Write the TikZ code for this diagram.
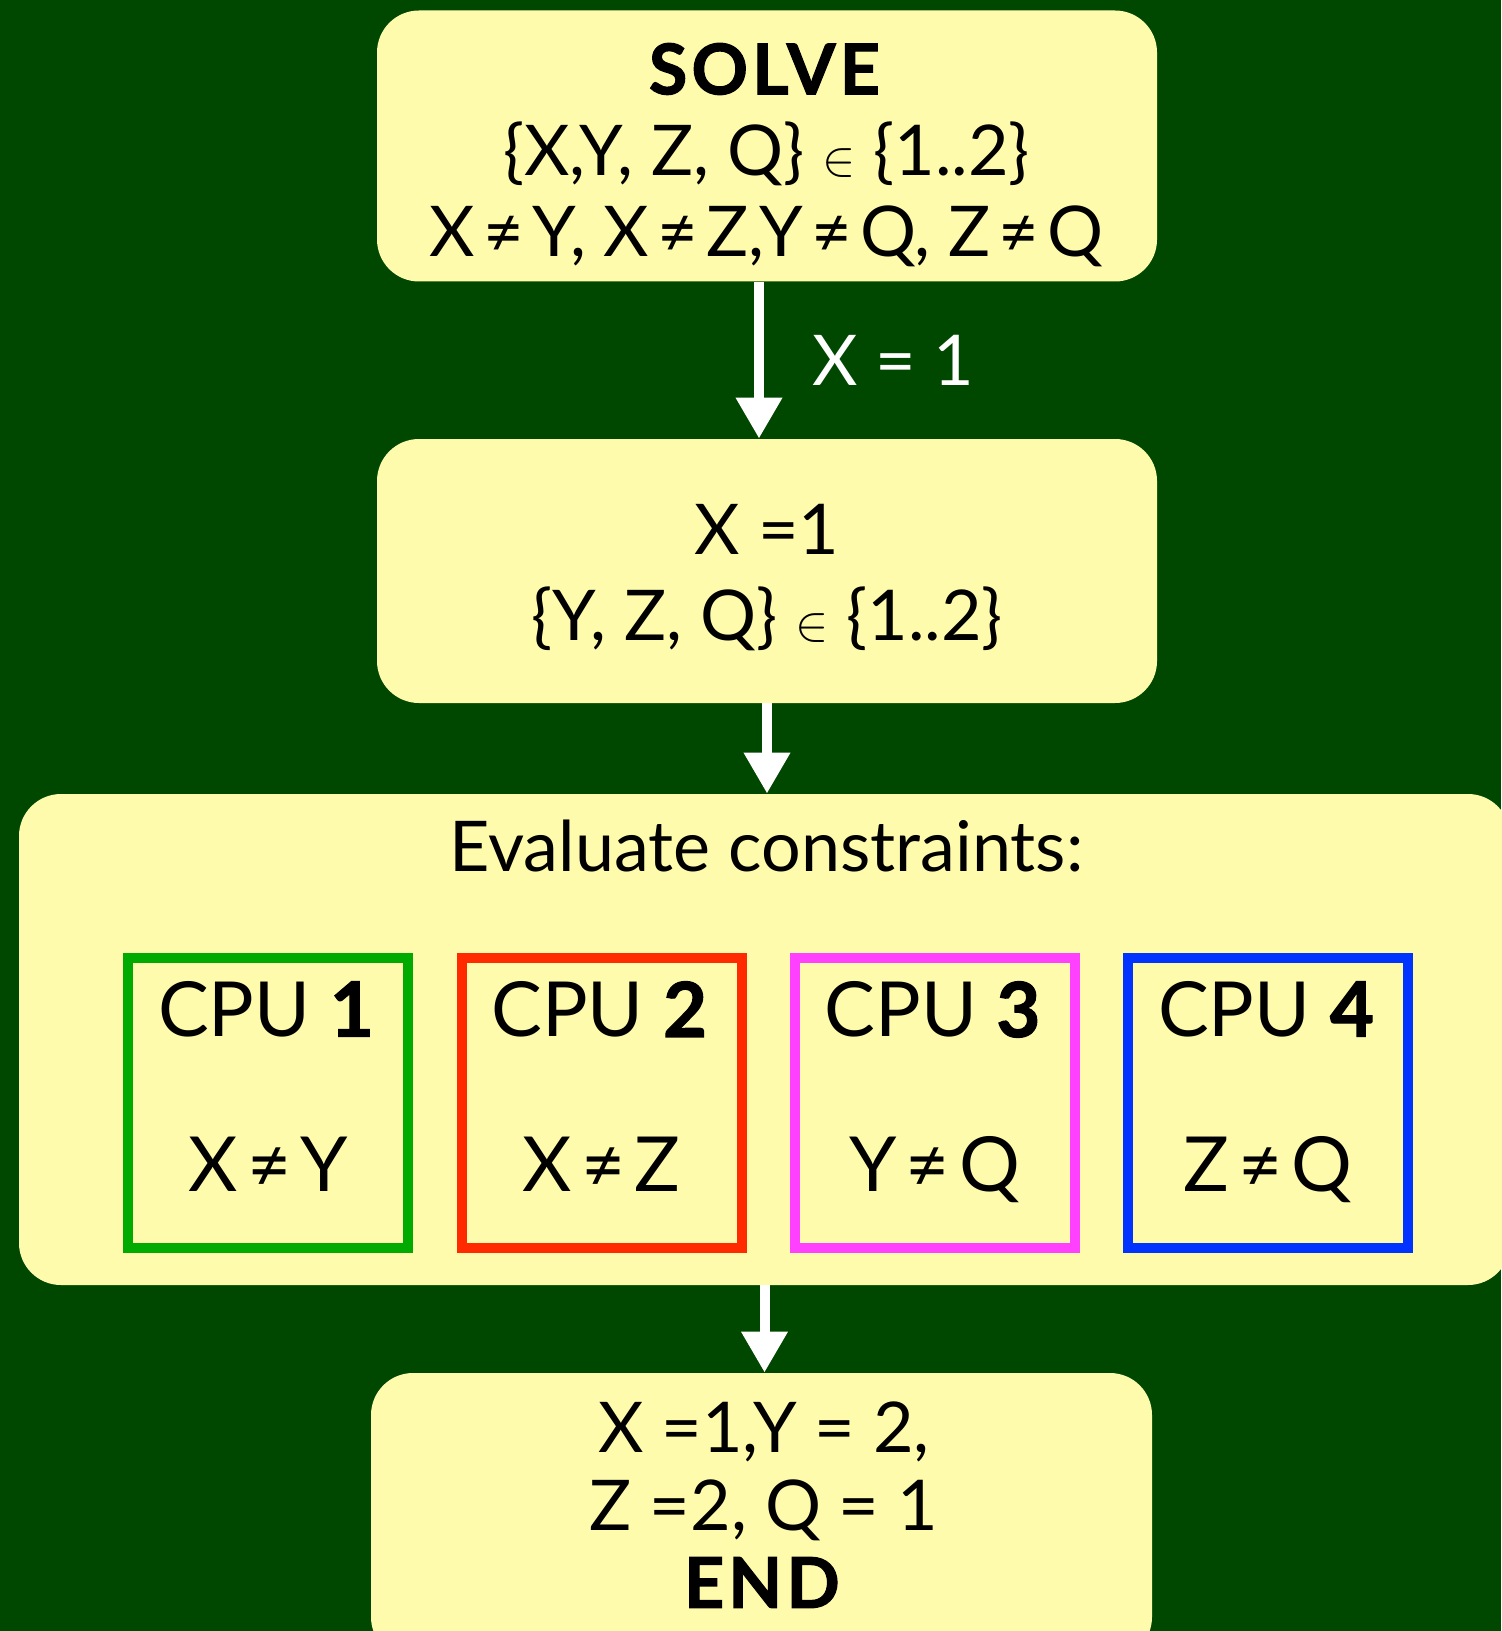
\documentclass[tikz,border=0pt]{standalone}
\usepackage{fontspec}
\setmainfont{Lato}[BoldFeatures={FakeBold=1.5, LetterSpace=6}]
\usetikzlibrary{arrows.meta}

\definecolor{board}{RGB}{0,72,0}
\definecolor{pad}{RGB}{255,251,173}
\definecolor{cpuA}{RGB}{0,170,0}
\definecolor{cpuB}{RGB}{255,42,0}
\definecolor{cpuC}{RGB}{255,64,255}
\definecolor{cpuD}{RGB}{0,51,255}

\newcommand\neqsign{\kern0.12em≠\kern0.12em}

\begin{document}
\begin{tikzpicture}[x=0.5pt, y=-0.5pt,
        every node/.style = {inner sep=0pt, align=center,
            font=\fontsize{35}{40.5}\selectfont},
        stage/.style = {shape=rectangle, rounded corners=21pt, fill=pad},
        cpu/.style = {shape=rectangle, draw=#1, line width=5pt,
            minimum width=140pt, minimum height=145pt},
        flow/.style = {draw=white, line width=5pt,
            -{Triangle[length=20.5pt, width=22pt]}}]

    \useasboundingbox (0,0) rectangle (1501,1631);
    \fill[board] (0,0) rectangle (1501,1631);

    \node[stage, minimum width=390pt, minimum height=135.5pt] (solve) at (767,146) {};
    \node[stage, minimum width=390pt, minimum height=132pt] (bind) at (767,571) {};
    \node[stage, minimum width=745.5pt, minimum height=245.5pt] (evaluate) at (764.5,1039.5) {};
    \node[stage, minimum width=390.5pt, minimum height=143pt] (finish) at (761.5,1516) {};

    \node[anchor=north] (solvetext) at (766.5,42.7)
        {\textbf{SOLVE}\\ \{X,Y, Z, Q\} $\in$ \{1..2\}\\
         X\neqsign Y, X\neqsign Z,Y\neqsign Q, Z\neqsign Q};
    \node[anchor=north, font=\fontsize{35}{43}\selectfont] (bindtext) at (767,504)
        {X =1\\ \{Y, Z, Q\} $\in$ \{1..2\}};
    \node[anchor=base] (evaltext) at (766.5,871.7) {Evaluate constraints:};
    \node[anchor=north, font=\fontsize{35}{38.75}\selectfont] (finishtext) at (764,1401.7)
        {X =1,Y = 2,\\ Z =2, Q = 1\\ \textbf{END}};

    \foreach \i/\x/\c/\rule in {1/268.3/cpuA/X\neqsign Y, 2/601.5/cpuB/X\neqsign Z,
                                3/934.8/cpuC/Y\neqsign Q, 4/1268.4/cpuD/Z\neqsign Q} {
        \node[cpu=\c] (cpu\i) at (\x,1102.7) {};
        \node[anchor=north, font=\fontsize{38}{77.5}\selectfont] (cpu\i text) at (\x,981)
            {CPU \textbf{\i}\\ \rule};
    }

    \draw[flow] ([xshift=-4pt]solve.south) -- node[midway, anchor=west, xshift=24pt, text=white] (bindlabel) {X = 1} ([xshift=-4pt]bind.north);
    \draw[flow] (bind.south) -- (bind.south |- evaluate.north);
    \draw[flow] (evaluate.south) -- (evaluate.south |- finish.north);
\end{tikzpicture}
\end{document}
